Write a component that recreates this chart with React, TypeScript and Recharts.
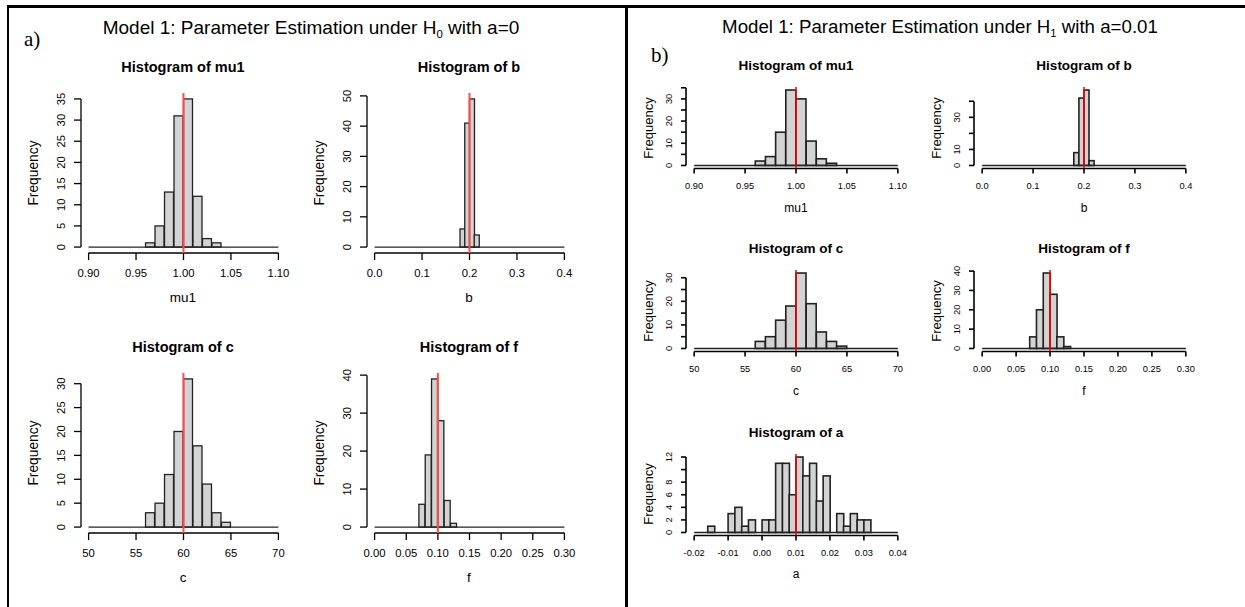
import React from "react";
import { ComposedChart, Bar, XAxis, YAxis, ReferenceLine } from "recharts";

// bin lower edges (every bin is one step wide)
const mu1Lows = [0.96, 0.97, 0.98, 0.99, 1.0, 1.01, 1.02, 1.03];
const bLows = [0.18, 0.19, 0.2, 0.21];
const cLows = [56, 57, 58, 59, 60, 61, 62, 63, 64];
const fLows = [0.07, 0.08, 0.09, 0.1, 0.11, 0.12];
const aLows = [
  -0.016, -0.014, -0.012, -0.01, -0.008, -0.006, -0.004, -0.002, 0, 0.002, 0.004, 0.006,
  0.008, 0.01, 0.012, 0.014, 0.016, 0.018, 0.02, 0.022, 0.024, 0.026, 0.028, 0.03,
];

// a) under H0, a = 0
const mu1H0 = [1, 5, 13, 31, 35, 12, 2, 1];
const bH0 = [6, 41, 49, 4];
const cH0 = [3, 5, 11, 20, 31, 17, 9, 3, 1];
const fH0 = [6, 19, 39, 28, 7, 1];

// b) under H1, a = 0.01
const mu1H1 = [2, 4, 15, 34, 30, 11, 3, 1];
const bH1 = [8, 42, 47, 3];
const cH1 = [3, 5, 12, 18, 32, 19, 7, 3, 1];
const fH1 = [6, 20, 39, 28, 6, 1];
const aH1 = [1, 0, 0, 3, 4, 1, 2, 0, 2, 2, 11, 11, 6, 12, 9, 11, 5, 9, 0, 3, 1, 3, 2, 2];

// x axes
const mu1Ticks = [0.9, 0.95, 1.0, 1.05, 1.1];
const mu1TickLabels = ["0.90", "0.95", "1.00", "1.05", "1.10"];
const bTicks = [0, 0.1, 0.2, 0.3, 0.4];
const bTickLabels = ["0.0", "0.1", "0.2", "0.3", "0.4"];
const cTicks = [50, 55, 60, 65, 70];
const cTickLabels = ["50", "55", "60", "65", "70"];
const fTicks = [0, 0.05, 0.1, 0.15, 0.2, 0.25, 0.3];
const fTickLabels = ["0.00", "0.05", "0.10", "0.15", "0.20", "0.25", "0.30"];
const aTicks = [-0.02, -0.01, 0, 0.01, 0.02, 0.03, 0.04];
const aTickLabels = ["-0.02", "-0.01", "0.00", "0.01", "0.02", "0.03", "0.04"];

// y axes ("" = label R left out because it would overlap)
const yTicks35 = [0, 5, 10, 15, 20, 25, 30, 35];
const yLabels35 = ["0", "5", "10", "15", "20", "25", "30", "35"];
const yLabels35Sparse = ["0", "", "10", "", "20", "", "30", ""];
const yTicks50 = [0, 10, 20, 30, 40, 50];
const yLabels50 = ["0", "10", "20", "30", "40", "50"];
const yTicks30 = [0, 5, 10, 15, 20, 25, 30];
const yLabels30 = ["0", "5", "10", "15", "20", "25", "30"];
const yLabels30Sparse = ["0", "", "10", "", "20", "", "30"];
const yTicks40 = [0, 10, 20, 30, 40];
const yLabels40 = ["0", "10", "20", "30", "40"];
const yLabels40Sparse = ["0", "10", "", "30", ""];
const yTicks12 = [0, 2, 4, 6, 8, 10, 12];
const yLabels12 = ["0", "2", "4", "6", "8", "", "12"];

// true values (red lines)
const trueMu1 = 1.0;
const trueB = 0.2;
const trueC = 60;
const trueF = 0.1;
const trueA = 0.01;

const FONT = '"Liberation Sans", Arial, Helvetica, sans-serif';
const PADL = 60;
const PADR = 6;
const PADT = 6;
const PADB = 34;

type Look = {
  tickFont: number;
  tickLen: number;
  xLabGap: number;
  yLabGap: number;
  freqGap: number;
  titleGap: number;
  nameGap: number;
  titleFont: number;
  nameFont: number;
  freqFont: number;
  lineW: number;
  red: string;
  redW: number;
};

const big: Look = {
  tickFont: 11.3, tickLen: 7, xLabGap: 20, yLabGap: 20, freqGap: 47, titleGap: 26, nameGap: 45,
  titleFont: 14.5, nameFont: 13.5, freqFont: 13.8, lineW: 1.3, red: "#ff4a4a", redW: 2,
};
const small: Look = {
  tickFont: 9.3, tickLen: 5, xLabGap: 17.5, yLabGap: 17, freqGap: 38, titleGap: 21, nameGap: 39,
  titleFont: 13.5, nameFont: 12, freqFont: 13, lineW: 1.6, red: "#ff0000", redW: 1.5,
};

type Spec = {
  name: string;
  lows: number[];
  counts: number[];
  xTicks: number[];
  xLabels: string[];
  yTicks: number[];
  yLabels: string[];
  truth: number;
};

const Label = ({ x, y, size, bold, rotate, children }: any) => (
  <div
    style={{
      position: "absolute",
      left: x,
      top: y,
      transform: `translate(-50%, -50%)${rotate ? " rotate(-90deg)" : ""}`,
      whiteSpace: "nowrap",
      lineHeight: 1,
      fontSize: size,
      fontWeight: bold ? "bold" : "normal",
      color: "#000",
    }}
  >
    {children}
  </div>
);

const Hist = ({ s, left, top, w, h, look }: { s: Spec; left: number; top: number; w: number; h: number; look: Look }) => {
  const step = s.lows[1] - s.lows[0];
  const data = s.lows.map((lo, i) => ({ mid: lo + step / 2, count: s.counts[i] }));
  const x0 = s.xTicks[0];
  const x1 = s.xTicks[s.xTicks.length - 1];
  const xPad = (x1 - x0) * 0.04;
  const yMax = Math.max(...s.counts);
  const yPad = yMax * 0.04;

  const xTick = (p: any) => {
    const i = s.xTicks.findIndex((t) => Math.abs(t - p.payload.value) < 1e-9);
    return (
      <text x={p.x} y={p.y - look.tickLen + look.xLabGap} textAnchor="middle" dominantBaseline="central"
        fontSize={look.tickFont} fontFamily={FONT} fill="#000">
        {s.xLabels[i]}
      </text>
    );
  };
  const yTick = (p: any) => {
    const i = s.yTicks.findIndex((t) => Math.abs(t - p.payload.value) < 1e-9);
    const cx = p.x + look.tickLen - look.yLabGap;
    return (
      <text x={cx} y={p.y} textAnchor="middle" dominantBaseline="central" transform={`rotate(-90, ${cx}, ${p.y})`}
        fontSize={look.tickFont} fontFamily={FONT} fill="#000">
        {s.yLabels[i]}
      </text>
    );
  };
  const rect = (p: any) => (
    <rect x={p.x} y={p.y} width={p.width} height={Math.max(p.height, 0)} fill="#d3d3d3" stroke="#222"
      strokeWidth={look.lineW} />
  );

  return (
    <>
      <div style={{ position: "absolute", left: left - PADL, top: top - PADT }}>
        <ComposedChart width={w + PADL + PADR} height={h + PADT + PADB} data={data}
          margin={{ top: PADT, right: PADR, left: 0, bottom: 0 }} barCategoryGap={0} barGap={0}>
          <XAxis dataKey="mid" type="number" domain={[x0 - xPad, x1 + xPad]} allowDataOverflow ticks={s.xTicks}
            interval={0} height={PADB} tickSize={look.tickLen} tickMargin={0} axisLine={false}
            tickLine={{ stroke: "#000", strokeWidth: look.lineW }} tick={xTick} />
          <YAxis type="number" domain={[-yPad, yMax + yPad]} allowDataOverflow ticks={s.yTicks} interval={0}
            width={PADL} tickSize={look.tickLen} tickMargin={0} axisLine={false}
            tickLine={{ stroke: "#000", strokeWidth: look.lineW }} tick={yTick} />
          <Bar dataKey="count" shape={rect} isAnimationActive={false} />
          <ReferenceLine segment={[{ x: x0, y: 0 }, { x: x1, y: 0 }]} stroke="#222" strokeWidth={look.lineW}
            ifOverflow="visible" />
          <ReferenceLine segment={[{ x: x0, y: -yPad }, { x: x1, y: -yPad }]} stroke="#000"
            strokeWidth={look.lineW} ifOverflow="visible" />
          <ReferenceLine segment={[{ x: x0 - xPad, y: s.yTicks[0] }, { x: x0 - xPad, y: s.yTicks[s.yTicks.length - 1] }]}
            stroke="#000" strokeWidth={look.lineW} ifOverflow="visible" />
          <ReferenceLine x={s.truth} stroke={look.red} strokeWidth={look.redW} />
        </ComposedChart>
      </div>
      <Label x={left + w / 2} y={top - look.titleGap} size={look.titleFont} bold>
        Histogram of {s.name}
      </Label>
      <Label x={left + w / 2} y={top + h + look.nameGap} size={look.nameFont}>
        {s.name}
      </Label>
      <Label x={left - look.freqGap} y={top + h / 2} size={look.freqFont} rotate>
        Frequency
      </Label>
    </>
  );
};

const Sub = ({ c }: { c: string }) => (
  <span style={{ fontSize: "0.6em", position: "relative", top: "0.35em" }}>{c}</span>
);

const App = () => {
  const L = { cols: [80.5, 366.5], rows: [93, 373], w: 205, h: 160 };
  const R = { cols: [686, 974], rows: [87, 270, 453.5], w: 220, h: 81.5 };
  return (
    <div style={{ position: "absolute", left: 0, top: 0, width: 1245, height: 607, background: "#fff",
      overflow: "hidden", fontFamily: FONT }}>
      <div style={{ position: "absolute", left: 6.5, top: 5, width: 1240, height: 2.5, background: "#000" }} />
      <div style={{ position: "absolute", left: 6.5, top: 5, width: 2.5, height: 610, background: "#000" }} />
      <div style={{ position: "absolute", left: 625, top: 5, width: 2.5, height: 610, background: "#000" }} />

      <Label x={311} y={27} size={19}>
        Model 1: Parameter Estimation under H<Sub c="0" /> with a=0
      </Label>
      <Label x={940} y={27} size={18.7}>
        Model 1: Parameter Estimation under H<Sub c="1" /> with a=0.01
      </Label>
      <div style={{ position: "absolute", left: 24, top: 29, fontFamily: '"Liberation Serif", "Times New Roman", serif',
        fontSize: 21, lineHeight: 1 }}>a)</div>
      <div style={{ position: "absolute", left: 651, top: 45, fontFamily: '"Liberation Serif", "Times New Roman", serif',
        fontSize: 21, lineHeight: 1 }}>b)</div>

      <Hist look={big} left={L.cols[0]} top={L.rows[0]} w={L.w} h={L.h}
        s={{ name: "mu1", lows: mu1Lows, counts: mu1H0, xTicks: mu1Ticks, xLabels: mu1TickLabels,
          yTicks: yTicks35, yLabels: yLabels35, truth: trueMu1 }} />
      <Hist look={big} left={L.cols[1]} top={L.rows[0]} w={L.w} h={L.h}
        s={{ name: "b", lows: bLows, counts: bH0, xTicks: bTicks, xLabels: bTickLabels,
          yTicks: yTicks50, yLabels: yLabels50, truth: trueB }} />
      <Hist look={big} left={L.cols[0]} top={L.rows[1]} w={L.w} h={L.h}
        s={{ name: "c", lows: cLows, counts: cH0, xTicks: cTicks, xLabels: cTickLabels,
          yTicks: yTicks30, yLabels: yLabels30, truth: trueC }} />
      <Hist look={big} left={L.cols[1]} top={L.rows[1]} w={L.w} h={L.h}
        s={{ name: "f", lows: fLows, counts: fH0, xTicks: fTicks, xLabels: fTickLabels,
          yTicks: yTicks40, yLabels: yLabels40, truth: trueF }} />

      <Hist look={small} left={R.cols[0]} top={R.rows[0]} w={R.w} h={R.h}
        s={{ name: "mu1", lows: mu1Lows, counts: mu1H1, xTicks: mu1Ticks, xLabels: mu1TickLabels,
          yTicks: yTicks35, yLabels: yLabels35Sparse, truth: trueMu1 }} />
      <Hist look={small} left={R.cols[1]} top={R.rows[0]} w={R.w} h={R.h}
        s={{ name: "b", lows: bLows, counts: bH1, xTicks: bTicks, xLabels: bTickLabels,
          yTicks: yTicks40, yLabels: yLabels40Sparse, truth: trueB }} />
      <Hist look={small} left={R.cols[0]} top={R.rows[1]} w={R.w} h={R.h}
        s={{ name: "c", lows: cLows, counts: cH1, xTicks: cTicks, xLabels: cTickLabels,
          yTicks: yTicks30, yLabels: yLabels30Sparse, truth: trueC }} />
      <Hist look={small} left={R.cols[1]} top={R.rows[1]} w={R.w} h={R.h}
        s={{ name: "f", lows: fLows, counts: fH1, xTicks: fTicks, xLabels: fTickLabels,
          yTicks: yTicks40, yLabels: yLabels40, truth: trueF }} />
      <Hist look={small} left={R.cols[0]} top={R.rows[2]} w={R.w} h={R.h}
        s={{ name: "a", lows: aLows, counts: aH1, xTicks: aTicks, xLabels: aTickLabels,
          yTicks: yTicks12, yLabels: yLabels12, truth: trueA }} />
    </div>
  );
};

export default App;
